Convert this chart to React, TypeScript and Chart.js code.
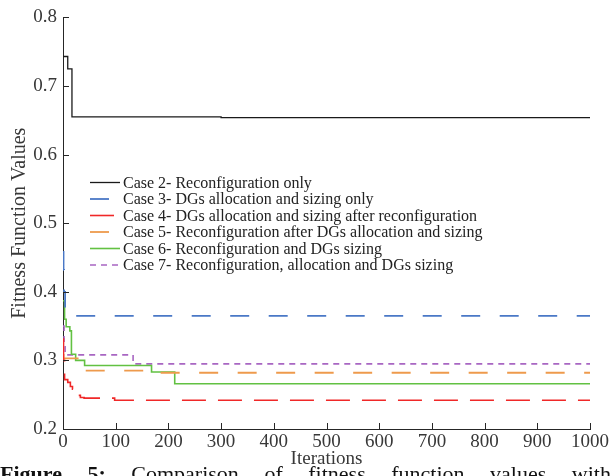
import React, { useEffect, useRef } from 'react';
import { Chart, registerables } from 'chart.js';

Chart.register(...registerables);

// ---- data ----
const xTickValues = [0, 100, 200, 300, 400, 500, 600, 700, 800, 900, 1000];
const yTickValues = [0.2, 0.3, 0.4, 0.5, 0.6, 0.7, 0.8];

const seriesLabels = [
  'Case 2- Reconfiguration only',
  'Case 3- DGs allocation and sizing only',
  'Case 4- DGs allocation and sizing after reconfiguration',
  'Case 5- Reconfiguration after DGs allocation and sizing',
  'Case 6- Reconfiguration and DGs sizing',
  'Case 7- Reconfiguration, allocation and DGs sizing',
];

const case2Iter = [0, 9, 17, 300, 1000];
const case2Val = [0.743, 0.725, 0.655, 0.654, 0.654];

const case3Iter = [0, 1, 2, 4, 7, 1000];
const case3Val = [0.458, 0.432, 0.4, 0.375, 0.365, 0.365];

const case4Iter = [0, 1, 3, 9, 14, 18, 22, 26, 33, 40, 98, 1000];
const case4Val = [0.331, 0.3, 0.272, 0.268, 0.262, 0.258, 0.254, 0.249, 0.246, 0.245, 0.242, 0.242];

const case5Iter = [0, 1, 35, 175, 1000];
const case5Val = [0.308, 0.303, 0.285, 0.282, 0.282];

const case6Iter = [0, 3, 6, 13, 16, 24, 41, 168, 212, 1000];
const case6Val = [0.387, 0.36, 0.349, 0.343, 0.309, 0.3, 0.2925, 0.283, 0.266, 0.266];

const case7Iter = [0, 2, 4, 133, 1000];
const case7Val = [0.35, 0.32, 0.308, 0.295, 0.295];

const seriesIters = [case2Iter, case3Iter, case4Iter, case5Iter, case6Iter, case7Iter];
const seriesVals = [case2Val, case3Val, case4Val, case5Val, case6Val, case7Val];

// ---- styles ----
const seriesColors = ['#1a1a1a', '#4a78c6', '#f02828', '#ee9a4c', '#62c142', '#a866c2'];
const seriesDash: number[][] = [[], [19, 19.5], [24, 12], [19, 19.5], [], [6, 5]];
const seriesWidth = [1.3, 1.8, 1.6, 1.8, 1.6, 1.6];

const FONT = "'Liberation Serif', 'Times New Roman', serif";
const AXIS_COLOR = '#262626';
const TEXT_COLOR = '#383838';

const inwardTicks = {
  id: 'inwardTicks',
  afterDraw(chart: any) {
    const ctx = chart.ctx;
    const xs = chart.scales.x;
    const ys = chart.scales.y;
    ctx.save();
    ctx.strokeStyle = AXIS_COLOR;
    ctx.lineWidth = 1;
    ctx.beginPath();
    xTickValues.forEach((v) => {
      const px = Math.round(xs.getPixelForValue(v)) + 0.5;
      ctx.moveTo(px, ys.bottom);
      ctx.lineTo(px, ys.bottom - 6);
    });
    yTickValues.forEach((v) => {
      const py = Math.round(ys.getPixelForValue(v)) + 0.5;
      ctx.moveTo(xs.left, py);
      ctx.lineTo(xs.left + 6, py);
    });
    ctx.stroke();
    ctx.restore();
  },
};

const legendPlugin = {
  id: 'customLegend',
  afterDraw(chart: any) {
    const ctx = chart.ctx;
    const x0 = 90;
    const x1 = 120;
    const tx = 123;
    const y0 = 182.5;
    const dy = 16.5;
    ctx.save();
    ctx.font = `16px ${FONT}`;
    ctx.textBaseline = 'middle';
    ctx.textAlign = 'left';
    chart.data.datasets.forEach((ds: any, i: number) => {
      const y = y0 + i * dy;
      ctx.strokeStyle = ds.borderColor;
      ctx.lineWidth = ds.borderWidth;
      ctx.setLineDash(ds.borderDash || []);
      ctx.beginPath();
      ctx.moveTo(x0, y);
      ctx.lineTo(x1, y);
      ctx.stroke();
      ctx.setLineDash([]);
      ctx.fillStyle = '#222222';
      ctx.fillText(ds.label, tx, y + 1);
    });
    ctx.restore();
  },
};

export default function App() {
  const canvasRef = useRef<HTMLCanvasElement | null>(null);

  useEffect(() => {
    const canvas = canvasRef.current;
    if (!canvas) return;
    const datasets = seriesLabels.map((label, i) => ({
      label,
      data: seriesIters[i].map((x, j) => ({ x, y: seriesVals[i][j] })),
      borderColor: seriesColors[i],
      backgroundColor: seriesColors[i],
      borderWidth: seriesWidth[i],
      borderDash: seriesDash[i],
      pointRadius: 0,
      stepped: 'before' as const,
      fill: false,
    }));
    const chart = new Chart(canvas, {
      type: 'line',
      data: { datasets },
      options: {
        animation: false,
        responsive: false,
        devicePixelRatio: 1,
        layout: { padding: { left: 0, right: 17, top: 15, bottom: 0 } },
        plugins: {
          legend: { display: false },
          tooltip: { enabled: false },
        },
        scales: {
          x: {
            type: 'linear',
            min: 0,
            max: 1000,
            afterFit: (s: any) => {
              s.height = 47;
            },
            afterBuildTicks: (s: any) => {
              s.ticks = xTickValues.map((v) => ({ value: v }));
            },
            grid: { display: false, drawTicks: false },
            border: { display: true, color: AXIS_COLOR, width: 1 },
            ticks: {
              padding: 2,
              color: TEXT_COLOR,
              font: { family: FONT, size: 19 },
              maxRotation: 0,
              autoSkip: false,
              callback: (v: any) => String(v),
            },
            title: {
              display: true,
              text: 'Iterations',
              color: TEXT_COLOR,
              font: { family: FONT, size: 19 },
              padding: { top: 0, bottom: 6 },
            },
          },
          y: {
            type: 'linear',
            min: 0.2,
            max: 0.8,
            afterFit: (s: any) => {
              s.width = 63;
            },
            afterBuildTicks: (s: any) => {
              s.ticks = yTickValues.map((v) => ({ value: v }));
            },
            grid: { display: false, drawTicks: false },
            border: { display: true, color: AXIS_COLOR, width: 1 },
            ticks: {
              padding: 6,
              color: TEXT_COLOR,
              font: { family: FONT, size: 19 },
              callback: (v: any) => Number(v).toFixed(1),
            },
            title: {
              display: true,
              text: 'Fitness Function Values',
              color: TEXT_COLOR,
              font: { family: FONT, size: 20 },
              padding: { top: 8, bottom: 0 },
            },
          },
        },
      },
      plugins: [inwardTicks, legendPlugin],
    });
    return () => chart.destroy();
  }, []);

  const captionWords = [
    { t: 'Figure', b: true },
    { t: '5:', b: true },
    { t: 'Comparison', b: false },
    { t: 'of', b: false },
    { t: 'fitness', b: false },
    { t: 'function', b: false },
    { t: 'values', b: false },
    { t: 'with', b: false },
  ];

  return (
    <div
      style={{
        position: 'absolute',
        left: 0,
        top: 0,
        width: 611,
        height: 476,
        overflow: 'hidden',
        background: '#ffffff',
      }}
    >
      <canvas ref={canvasRef} width={611} height={476} style={{ display: 'block' }} />
      <div
        style={{
          position: 'absolute',
          left: 0,
          top: 463,
          width: 611,
          display: 'flex',
          justifyContent: 'space-between',
          fontFamily: FONT,
          fontSize: 22,
          lineHeight: '22px',
          color: '#111111',
          whiteSpace: 'nowrap',
        }}
      >
        {captionWords.map((w, i) => (
          <span key={i} style={{ fontWeight: w.b ? 700 : 400 }}>
            {w.t}
          </span>
        ))}
      </div>
    </div>
  );
}
